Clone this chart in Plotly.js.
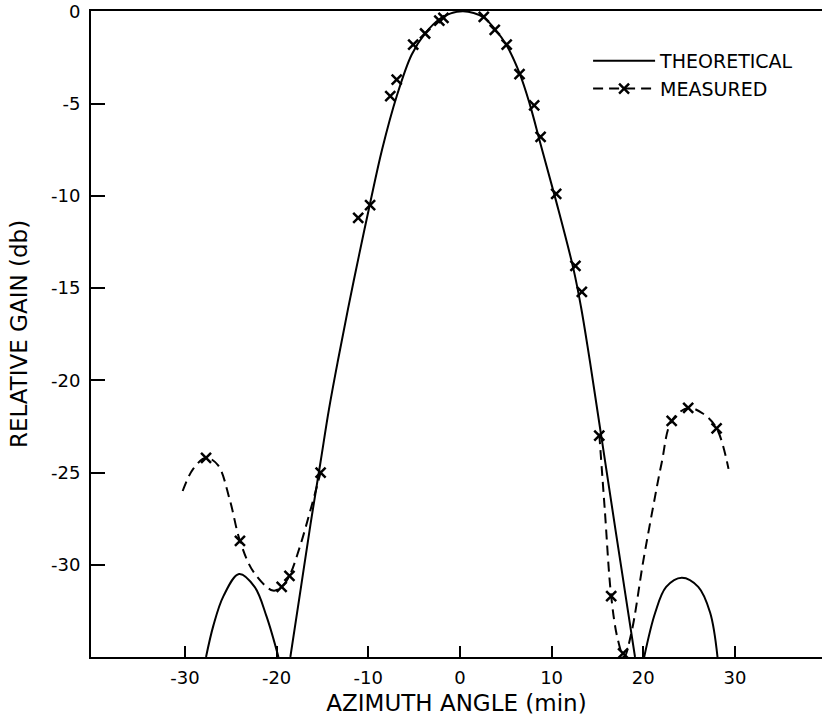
<!DOCTYPE html>
<html>
<head>
<meta charset="utf-8">
<script src="https://cdn.plot.ly/plotly-3.0.1.min.js"></script>
<style>html,body{margin:0;padding:0;background:#fff;}</style>
</head>
<body>
<div id="chart" style="width:822px;height:726px;"></div>
<script>
// Theoretical pattern
const theoLeftLobeX = [-27.7, -26.9, -25.8, -24.1, -22.4, -21.1, -19.8];
const theoLeftLobeY = [-35, -33.3, -31.7, -30.5, -31.2, -32.8, -35];
const theoMainX = [-18.5, -17.4, -16.3, -15.2, -14.3, -13.3, -12.2, -11.0, -9.8, -8.5, -6.9, -5.27, -3.82, -2.18, -1.0, 0.3, 1.5, 2.6, 3.8, 5.1, 6.5, 7.6, 8.8, 10.5, 12.4, 13.2, 14.0, 14.8, 15.9, 17.0, 18.05, 19.1];
const theoMainY = [-35, -31.4, -27.8, -24.4, -21.6, -18.9, -16.1, -13.2, -10.4, -7.5, -4.6, -2.35, -1.21, -0.40, -0.11, 0, -0.09, -0.33, -0.95, -1.85, -3.35, -5.0, -7.2, -10.3, -14.0, -16.0, -18.4, -21.0, -24.6, -28.2, -31.6, -35];
const theoRightLobeX = [20.1, 21.3, 22.5, 24.2, 26.0, 27.3, 28.1];
const theoRightLobeY = [-35, -32.6, -31.2, -30.7, -31.2, -32.6, -35];

// Measured curve (dashed) where it departs from theory
const measLeftCurveX = [-30.25, -29.1, -27.7, -26.4, -25.1, -24.0, -22.5, -20.4, -19.45, -18.6, -17.45, -16.4, -15.2];
const measLeftCurveY = [-26.0, -24.8, -24.2, -24.6, -26.5, -28.7, -30.4, -31.4, -31.2, -30.6, -29.0, -27.2, -25.0];
const measRightCurveX = [15.2, 15.8, 16.5, 17.2, 17.9, 18.7, 20.0, 21.1, 22.0, 23.1, 24.9, 26.5, 28.0, 29.3];
const measRightCurveY = [-22.9, -27.0, -31.7, -34.0, -35.0, -33.7, -29.8, -26.8, -24.5, -22.2, -21.5, -21.8, -22.6, -24.8];

// Measured points (crosses)
const measPointsX = [-27.7, -24.0, -19.45, -18.6, -15.2, -11.1, -9.8, -7.6, -6.9, -5.1, -3.8, -2.25, -1.8, 2.6, 3.8, 5.1, 6.5, 8.1, 8.8, 10.5, 12.6, 13.3, 15.2, 16.5, 17.8, 23.1, 24.9, 28.0];
const measPointsY = [-24.2, -28.7, -31.2, -30.6, -25.0, -11.2, -10.5, -4.6, -3.7, -1.8, -1.2, -0.5, -0.35, -0.3, -1.0, -1.8, -3.4, -5.1, -6.8, -9.9, -13.8, -15.2, -23.0, -31.7, -34.8, -22.2, -21.5, -22.6];

const xTicks = [-30, -20, -10, 0, 10, 20, 30];
const yTicks = [0, -5, -10, -15, -20, -25, -30];

const FONT = "DejaVu Sans, Noto Sans, sans-serif";

const theoX = theoLeftLobeX.concat([null], theoMainX, [null], theoRightLobeX);
const theoY = theoLeftLobeY.concat([null], theoMainY, [null], theoRightLobeY);
const measCurveX = measLeftCurveX.concat([null], measRightCurveX);
const measCurveY = measLeftCurveY.concat([null], measRightCurveY);

const crossMarker = {symbol: 'x-thin', size: 10, color: '#000', line: {color: '#000', width: 2.5}};

const traces = [
  {x: theoX, y: theoY, mode: 'lines', name: 'THEORETICAL', connectgaps: false,
   line: {color: '#000', width: 2, shape: 'spline', smoothing: 1}},
  {x: measCurveX, y: measCurveY, mode: 'lines', showlegend: false, connectgaps: false,
   line: {color: '#000', width: 2, dash: '10px,6px', shape: 'spline', smoothing: 1}},
  {x: measPointsX, y: measPointsY, mode: 'markers', showlegend: false, marker: crossMarker},
  {x: [null], y: [null], mode: 'lines+markers', name: 'MEASURED',
   line: {color: '#000', width: 2, dash: '10px,6px'}, marker: crossMarker}
];

const layout = {
  width: 822, height: 726,
  margin: {l: 91, r: 0, t: 11, b: 69},
  paper_bgcolor: '#fff', plot_bgcolor: '#fff',
  font: {family: FONT, size: 18, color: '#000'},
  showlegend: true,
  legend: {x: 0.68, y: 0.952, xanchor: 'left', yanchor: 'top', bgcolor: 'rgba(0,0,0,0)',
           font: {family: FONT, size: 19, color: '#000'}, itemwidth: 62, tracegroupgap: 0},
  xaxis: {
    range: [-40.25, 39.5], tickvals: xTicks, ticktext: xTicks.map(String),
    ticks: 'inside', ticklen: 11, tickwidth: 2, tickcolor: '#000',
    showline: true, linewidth: 2, linecolor: '#000', mirror: true,
    showgrid: false, zeroline: false, ticklabelstandoff: 3,
    tickfont: {family: FONT, size: 18, color: '#000'},
    title: {text: 'AZIMUTH ANGLE (min)', font: {family: FONT, size: 23, color: '#000'}, standoff: 8}
  },
  yaxis: {
    range: [-35, 0.02], tickvals: yTicks, ticktext: yTicks.map(String),
    ticks: 'inside', ticklen: 14, tickwidth: 2, tickcolor: '#000',
    showline: true, linewidth: 2, linecolor: '#000', mirror: true,
    showgrid: false, zeroline: false, ticklabelstandoff: 5,
    tickfont: {family: FONT, size: 18, color: '#000'},
    title: {text: 'RELATIVE GAIN (db)', font: {family: FONT, size: 23, color: '#000'}, standoff: 17}
  }
};

Plotly.newPlot('chart', traces, layout, {displayModeBar: false, staticPlot: true});
</script>
</body>
</html>
